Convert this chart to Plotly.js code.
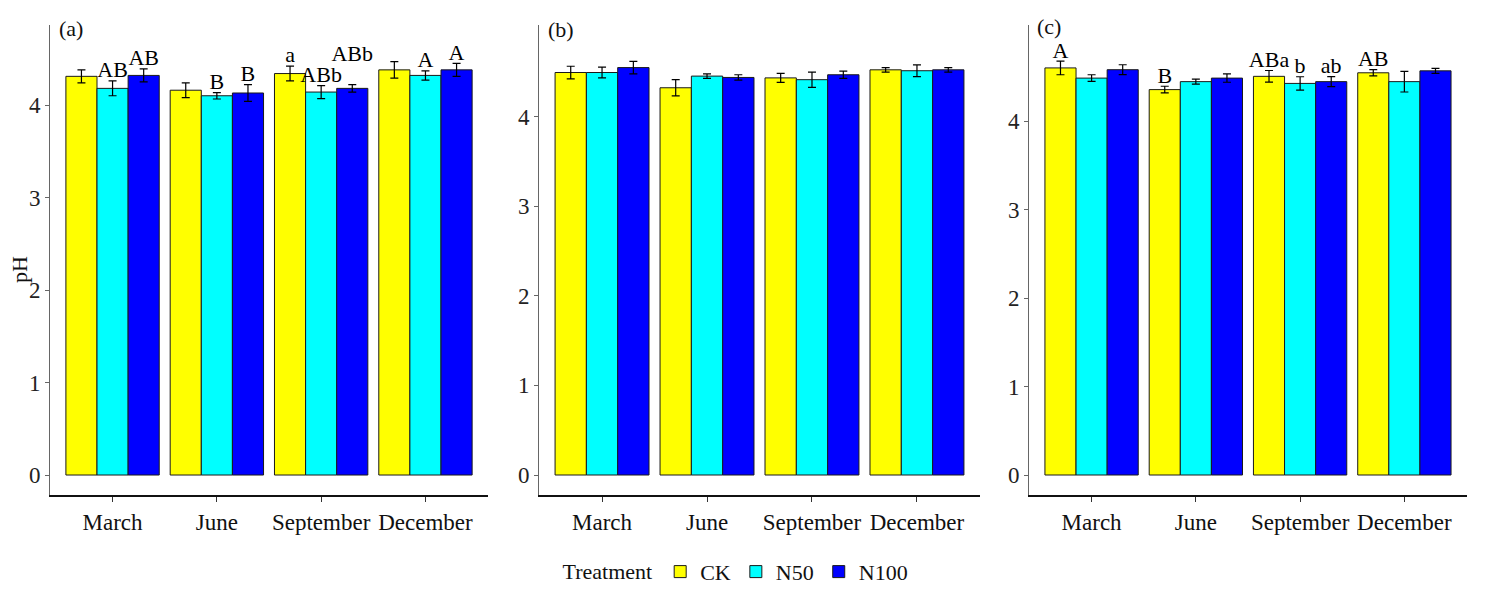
<!DOCTYPE html>
<html>
<head>
<meta charset="utf-8">
<script src="https://cdn.plot.ly/plotly-3.0.1.min.js"></script>
<style>html,body{margin:0;padding:0;background:#fff}#chart{width:1492px;height:600px}</style>
</head>
<body>
<div id="chart"></div>
<script>
const months = ['March', 'June', 'September', 'December'];
const treatments = ['CK', 'N50', 'N100'];

// panel (a)
const phA_CK   = [4.31, 4.16, 4.34, 4.38];
const phA_N50  = [4.18, 4.10, 4.14, 4.32];
const phA_N100 = [4.32, 4.13, 4.18, 4.38];
const seA_CK   = [0.07, 0.08, 0.08, 0.09];
const seA_N50  = [0.08, 0.035, 0.07, 0.05];
const seA_N100 = [0.07, 0.09, 0.04, 0.07];
const lbA_CK   = ['', '', 'a', ''];
const lbA_N50  = ['AB', 'B', 'ABb', 'A'];
const lbA_N100 = ['AB', 'B', 'ABb', 'A'];

// panel (b)
const phB_CK   = [4.49, 4.32, 4.43, 4.52];
const phB_N50  = [4.49, 4.45, 4.41, 4.51];
const phB_N100 = [4.545, 4.435, 4.465, 4.52];
const seB_CK   = [0.07, 0.09, 0.05, 0.025];
const seB_N50  = [0.06, 0.025, 0.085, 0.065];
const seB_N100 = [0.07, 0.03, 0.04, 0.025];

// panel (c)
const phC_CK   = [4.60, 4.355, 4.505, 4.545];
const phC_N50  = [4.485, 4.445, 4.425, 4.445];
const phC_N100 = [4.58, 4.485, 4.445, 4.567];
const seC_CK   = [0.077, 0.038, 0.066, 0.036];
const seC_N50  = [0.038, 0.028, 0.075, 0.117];
const seC_N100 = [0.056, 0.047, 0.056, 0.028];
const lbC_CK   = ['A', 'B', 'ABa', 'AB'];
const lbC_N50  = ['', '', 'b', ''];
const lbC_N100 = ['', '', 'ab', ''];

const FONT = 'Liberation Serif, Times New Roman, serif';
const fill = {CK: '#ffff00', N50: '#00ffff', N100: '#0000ff'};

const panels = [
  {ax: '', vals: [phA_CK, phA_N50, phA_N100], se: [seA_CK, seA_N50, seA_N100], lb: [lbA_CK, lbA_N50, lbA_N100]},
  {ax: '2', vals: [phB_CK, phB_N50, phB_N100], se: [seB_CK, seB_N50, seB_N100], lb: null},
  {ax: '3', vals: [phC_CK, phC_N50, phC_N100], se: [seC_CK, seC_N50, seC_N100], lb: [lbC_CK, lbC_N50, lbC_N100]},
];

const traces = [];
panels.forEach((p, pi) => {
  treatments.forEach((t, ti) => {
    traces.push({
      type: 'bar', name: t, x: months, y: p.vals[ti],
      xaxis: 'x' + p.ax, yaxis: 'y' + p.ax,
      offsetgroup: t, legendgroup: t, showlegend: pi === 0,
      marker: {color: fill[t], line: {color: '#1a1a1a', width: 1}},
      error_y: {type: 'data', array: p.se[ti], visible: true, color: '#000', thickness: 1.2, width: 4},
      hoverinfo: 'skip'
    });
  });
  if (p.lb) {
    treatments.forEach((t, ti) => {
      // letters sit just above the error bar; a long one next to another long one is lifted
      const y = p.vals[ti].map((v, i) => {
        const left = ti > 0 ? p.lb[ti - 1][i] : '';
        const lift = left && (left.length + p.lb[ti][i].length) >= 5 ? 0.22 : 0;
        return v + p.se[ti][i] + 0.1 + lift;
      });
      traces.push({
        type: 'scatter', mode: 'text', x: months, y: y,
        text: p.lb[ti], textposition: 'middle center',
        textfont: {family: FONT, size: 22, color: '#000'},
        xaxis: 'x' + p.ax, yaxis: 'y' + p.ax,
        offsetgroup: t, showlegend: false, cliponaxis: false, hoverinfo: 'skip'
      });
    });
  }
});

const xBase = {
  type: 'category', categoryarray: months, range: [-0.6, 3.6],
  showline: true, linecolor: '#111', linewidth: 1.5,
  ticks: 'outside', ticklen: 5, tickcolor: '#333', tickwidth: 1,
  ticklabelstandoff: 1,
  tickfont: {family: FONT, size: 23, color: '#111'},
  showgrid: false, zeroline: false, fixedrange: true
};
const yBase = {
  showline: true, linecolor: '#666', linewidth: 1,
  ticks: 'outside', ticklen: 4, tickcolor: '#666',
  tickvals: [0, 1, 2, 3, 4],
  tickfont: {family: FONT, size: 23, color: '#222'},
  showgrid: false, zeroline: false, fixedrange: true
};

const annFont = {family: FONT, size: 22, color: '#111'};

const layout = {
  width: 1492, height: 600,
  margin: {l: 0, r: 0, t: 25, b: 105},
  paper_bgcolor: '#fff', plot_bgcolor: '#fff',
  font: {family: FONT, color: '#111'},
  barmode: 'group', bargap: 0.105, bargroupgap: 0,
  scattermode: 'group', scattergap: 0.105,
  xaxis:  {...xBase, domain: [0.0335, 0.3271]},
  xaxis2: {...xBase, domain: [0.3613, 0.6568], anchor: 'y2'},
  xaxis3: {...xBase, domain: [0.6897, 0.9832], anchor: 'y3'},
  yaxis:  {...yBase, range: [-0.216, 4.865]},
  yaxis2: {...yBase, range: [-0.223, 5.02], anchor: 'x2'},
  yaxis3: {...yBase, range: [-0.226, 5.085], anchor: 'x3'},
  legend: {
    orientation: 'h', x: 0.494, xanchor: 'center', yref: 'container', y: 0.047, yanchor: 'middle',
    title: {text: 'Treatment', side: 'left', font: {family: FONT, size: 22}},
    font: {family: FONT, size: 22, color: '#111'}, itemwidth: 30, tracegroupgap: 0
  },
  annotations: [
    {text: '(a)', xref: 'x domain', yref: 'y domain', x: 0.016, y: 0.993, xanchor: 'left'},
    {text: '(b)', xref: 'x2 domain', yref: 'y2 domain', x: 0.016, y: 0.991, xanchor: 'left'},
    {text: '(c)', xref: 'x3 domain', yref: 'y3 domain', x: 0.014, y: 0.997, xanchor: 'left'},
    {text: 'pH', xref: 'x domain', yref: 'y domain', x: -0.068, y: 0.479, xanchor: 'center', textangle: -90},
  ].map(a => ({...a, yanchor: 'middle', showarrow: false, font: annFont}))
};

Plotly.newPlot('chart', traces, layout, {displayModeBar: false, staticPlot: true});
</script>
</body>
</html>
